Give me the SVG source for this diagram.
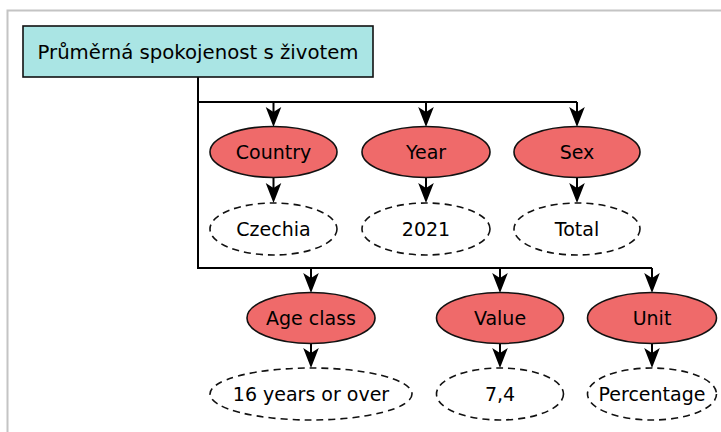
<svg xmlns="http://www.w3.org/2000/svg" width="721" height="432" viewBox="0 0 721 432">
  <style>
    .frame { fill: none; stroke: #c4c4c4; stroke-width: 2; }
    .title { fill: #aae5e4; stroke: #111111; stroke-width: 1.6; }
    .attr { fill: #ef6a6a; stroke: #111111; stroke-width: 1.6; }
    .val { fill: #ffffff; stroke: #111111; stroke-width: 1.6; stroke-dasharray: 7 5; }
    .lbl { font-family: "DejaVu Sans", "Liberation Sans", sans-serif; font-size: 19px; fill: #000000; text-anchor: middle; }
    .edge { fill: none; stroke: #000000; stroke-width: 2; }
  </style>
  <defs>
    <!-- notched arrowhead; the line ends at the notch, the tip sits 15px further on -->
    <marker id="arrow" markerUnits="userSpaceOnUse" orient="auto" refX="0" refY="0"
            viewBox="-6 -9 23 18" markerWidth="23" markerHeight="18" overflow="visible">
      <path d="M15,0 L-5,-7.8 L0,0 L-5,7.8 Z" fill="#000000"/>
    </marker>
  </defs>

  <rect width="721" height="432" fill="#ffffff"/>
  <!-- outer frame, open to the right and bottom -->
  <path class="frame" d="M7.5,432 V10.5 H721"/>

  <g id="connectors">
    <path class="edge" d="M198,77 V268 H652"/>
    <path class="edge" d="M198,102 H577"/>
    <path class="edge" d="M273.5,102 V112" marker-end="url(#arrow)"/>
    <path class="edge" d="M426,102 V112" marker-end="url(#arrow)"/>
    <path class="edge" d="M577,102 V112" marker-end="url(#arrow)"/>
    <path class="edge" d="M273.5,177.5 V188" marker-end="url(#arrow)"/>
    <path class="edge" d="M426,177.5 V188" marker-end="url(#arrow)"/>
    <path class="edge" d="M577,177.5 V188" marker-end="url(#arrow)"/>
    <path class="edge" d="M311,268 V278" marker-end="url(#arrow)"/>
    <path class="edge" d="M500,268 V278" marker-end="url(#arrow)"/>
    <path class="edge" d="M652,268 V278" marker-end="url(#arrow)"/>
    <path class="edge" d="M311,343.5 V353" marker-end="url(#arrow)"/>
    <path class="edge" d="M500,343.5 V353" marker-end="url(#arrow)"/>
    <path class="edge" d="M652,343.5 V353" marker-end="url(#arrow)"/>
  </g>

  <g id="title">
    <rect class="title" x="23" y="26" width="350" height="51"/>
    <text class="lbl" x="198" y="59" textLength="321" lengthAdjust="spacingAndGlyphs">Průměrná spokojenost s životem</text>
  </g>

  <g id="country">
    <ellipse class="attr" cx="273.5" cy="152" rx="63.5" ry="25.5"/>
    <text class="lbl" x="273.5" y="159">Country</text>
  </g>
  <g id="year">
    <ellipse class="attr" cx="426" cy="152" rx="64" ry="25.5"/>
    <text class="lbl" x="426" y="159">Year</text>
  </g>
  <g id="sex">
    <ellipse class="attr" cx="577" cy="152" rx="63" ry="25.5"/>
    <text class="lbl" x="577" y="159">Sex</text>
  </g>

  <g id="country-value">
    <ellipse class="val" cx="273.5" cy="229" rx="63.5" ry="26"/>
    <text class="lbl" x="273.5" y="236">Czechia</text>
  </g>
  <g id="year-value">
    <ellipse class="val" cx="426" cy="229" rx="64" ry="26"/>
    <text class="lbl" x="426" y="236">2021</text>
  </g>
  <g id="sex-value">
    <ellipse class="val" cx="577" cy="229" rx="63" ry="26"/>
    <text class="lbl" x="577" y="236">Total</text>
  </g>

  <g id="age-class">
    <ellipse class="attr" cx="311" cy="318" rx="64" ry="25.5"/>
    <text class="lbl" x="311" y="325">Age class</text>
  </g>
  <g id="value">
    <ellipse class="attr" cx="500" cy="318" rx="63.5" ry="25.5"/>
    <text class="lbl" x="500" y="325">Value</text>
  </g>
  <g id="unit">
    <ellipse class="attr" cx="652" cy="318" rx="64.5" ry="25.5"/>
    <text class="lbl" x="652" y="325">Unit</text>
  </g>

  <g id="age-class-value">
    <ellipse class="val" cx="311" cy="394" rx="101" ry="26"/>
    <text class="lbl" x="311" y="401">16 years or over</text>
  </g>
  <g id="value-value">
    <ellipse class="val" cx="500" cy="394" rx="63.5" ry="26"/>
    <text class="lbl" x="500" y="401">7,4</text>
  </g>
  <g id="unit-value">
    <ellipse class="val" cx="652" cy="394" rx="64.5" ry="26"/>
    <text class="lbl" x="652" y="401">Percentage</text>
  </g>
</svg>
